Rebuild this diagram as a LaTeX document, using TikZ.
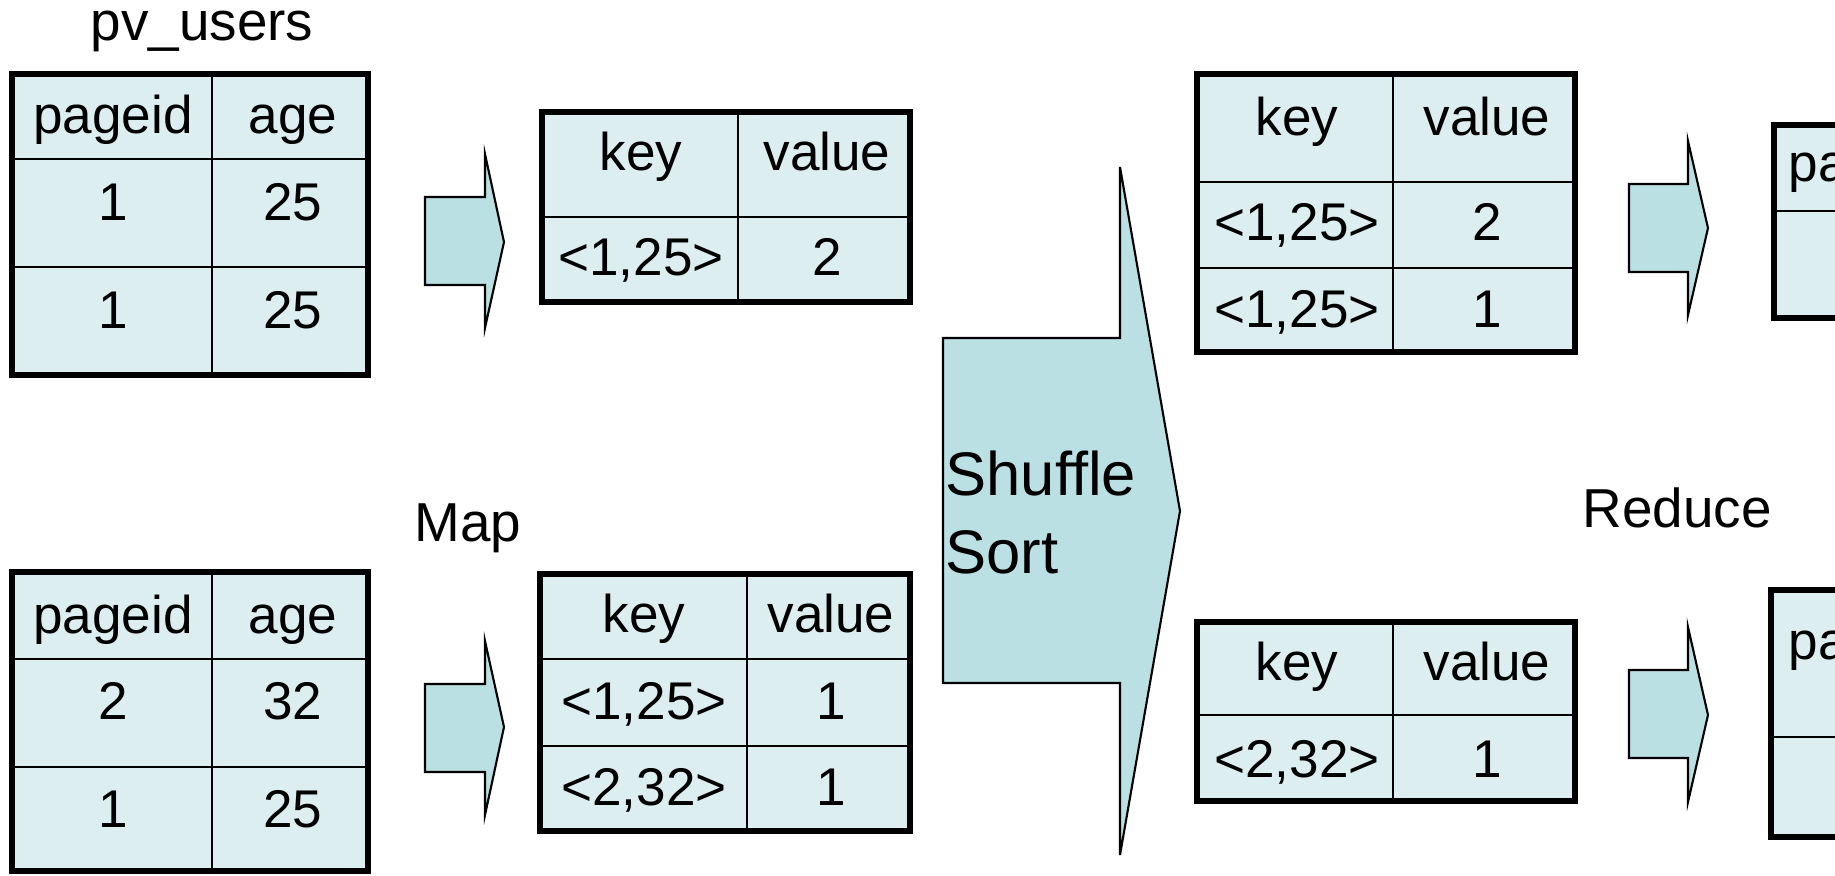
\documentclass[tikz,border=0pt]{standalone}
\usepackage{fontspec}
\setmainfont{Liberation Sans}
\usepackage{tikz}
\definecolor{cellfill}{HTML}{DDEEF0}
\definecolor{arrowfill}{HTML}{BAE0E3}

\begin{document}
\begin{tikzpicture}[x=0.01cm,y=-0.01cm,line join=miter,
    tbl/.style={draw=black,fill=cellfill,line width=1.7pt},
    rule/.style={draw=black,line width=0.7pt},
    fat/.style={draw=black,fill=arrowfill,line width=0.6pt},
    txt/.style={anchor=base,inner sep=0pt,font=\fontsize{15.1}{18}\selectfont},
    lbl/.style={anchor=base,inner sep=0pt,font=\fontsize{15.6}{19}\selectfont},
    big/.style={anchor=base west,inner sep=0pt,font=\fontsize{17.5}{22}\selectfont}]
  \path[use as bounding box] (0,0) rectangle (1835,875);
  \clip (0,0) rectangle (1835,875);

  % input tables
  \node[lbl] (pvusers) at (202,40) {pv\_users};
  \filldraw[tbl] (12,74) rectangle (368,375);
  \draw[rule] (212,74) -- (212,375) (12,159) -- (368,159) (12,267) -- (368,267);
  \node[txt] (a0l) at (113,133) {pageid};
  \node[txt] (a0r) at (293,133) {age};
  \node[txt] (a1l) at (113,220) {1};
  \node[txt] (a1r) at (293,220) {25};
  \node[txt] (a2l) at (113,328) {1};
  \node[txt] (a2r) at (293,328) {25};

  \filldraw[tbl] (12,572) rectangle (368,871);
  \draw[rule] (212,572) -- (212,871) (12,659) -- (368,659) (12,767) -- (368,767);
  \node[txt] (b0l) at (113,633) {pageid};
  \node[txt] (b0r) at (293,633) {age};
  \node[txt] (b1l) at (113,719) {2};
  \node[txt] (b1r) at (293,719) {32};
  \node[txt] (b2l) at (113,827) {1};
  \node[txt] (b2r) at (293,827) {25};

  % map
  \filldraw[fat] (425,197) -- (485,197) -- (485,154) -- (504,242) -- (485,328) -- (485,285) -- (425,285) -- cycle;
  \filldraw[fat] (425,684) -- (485,684) -- (485,641) -- (504,727) -- (485,815) -- (485,772) -- (425,772) -- cycle;
  \node[lbl] (map) at (468,541) {Map};

  \filldraw[tbl] (542,112) rectangle (910,302);
  \draw[rule] (738,112) -- (738,302) (542,217) -- (910,217);
  \node[txt] (c0l) at (641,170) {key};
  \node[txt] (c0r) at (827,170) {value};
  \node[txt] (c1l) at (641,275) {<1,25>};
  \node[txt] (c1r) at (827,275) {2};

  \filldraw[tbl] (540,574) rectangle (910,831);
  \draw[rule] (747,574) -- (747,831) (540,659) -- (910,659) (540,746) -- (910,746);
  \node[txt] (d0l) at (644,632) {key};
  \node[txt] (d0r) at (831,632) {value};
  \node[txt] (d1l) at (644,719) {<1,25>};
  \node[txt] (d1r) at (831,719) {1};
  \node[txt] (d2l) at (644,805) {<2,32>};
  \node[txt] (d2r) at (831,805) {1};

  % shuffle / sort
  \filldraw[fat] (943,338) -- (1120,338) -- (1120,167) -- (1180,511) -- (1120,855) -- (1120,683) -- (943,683) -- cycle;
  \node[big] (shuffle) at (945,495) {Shuffle};
  \node[big] (sort) at (945,573) {Sort};

  \filldraw[tbl] (1197,74) rectangle (1575,352);
  \draw[rule] (1393,74) -- (1393,352) (1197,182) -- (1575,182) (1197,268) -- (1575,268);
  \node[txt] (e0l) at (1297,135) {key};
  \node[txt] (e0r) at (1487,135) {value};
  \node[txt] (e1l) at (1297,240) {<1,25>};
  \node[txt] (e1r) at (1487,240) {2};
  \node[txt] (e2l) at (1297,327) {<1,25>};
  \node[txt] (e2r) at (1487,327) {1};

  \filldraw[tbl] (1197,622) rectangle (1575,801);
  \draw[rule] (1393,622) -- (1393,801) (1197,715) -- (1575,715);
  \node[txt] (f0l) at (1297,680) {key};
  \node[txt] (f0r) at (1487,680) {value};
  \node[txt] (f1l) at (1297,777) {<2,32>};
  \node[txt] (f1r) at (1487,777) {1};

  % reduce
  \filldraw[fat] (1629,184) -- (1688,184) -- (1688,141) -- (1708,228) -- (1688,315) -- (1688,272) -- (1629,272) -- cycle;
  \filldraw[fat] (1629,670) -- (1688,670) -- (1688,627) -- (1708,715) -- (1688,802) -- (1688,758) -- (1629,758) -- cycle;
  \node[lbl] (reduce) at (1677,527) {Reduce};

  \filldraw[tbl] (1774,125) rectangle (2100,318);
  \draw[rule] (1774,211) -- (2100,211);
  \node[txt,anchor=base west] (g0) at (1788,181) {pageid};

  \filldraw[tbl] (1771,590) rectangle (2100,837);
  \draw[rule] (1771,737) -- (2100,737);
  \node[txt,anchor=base west] (h0) at (1788,659) {pageid};
\end{tikzpicture}
\end{document}
